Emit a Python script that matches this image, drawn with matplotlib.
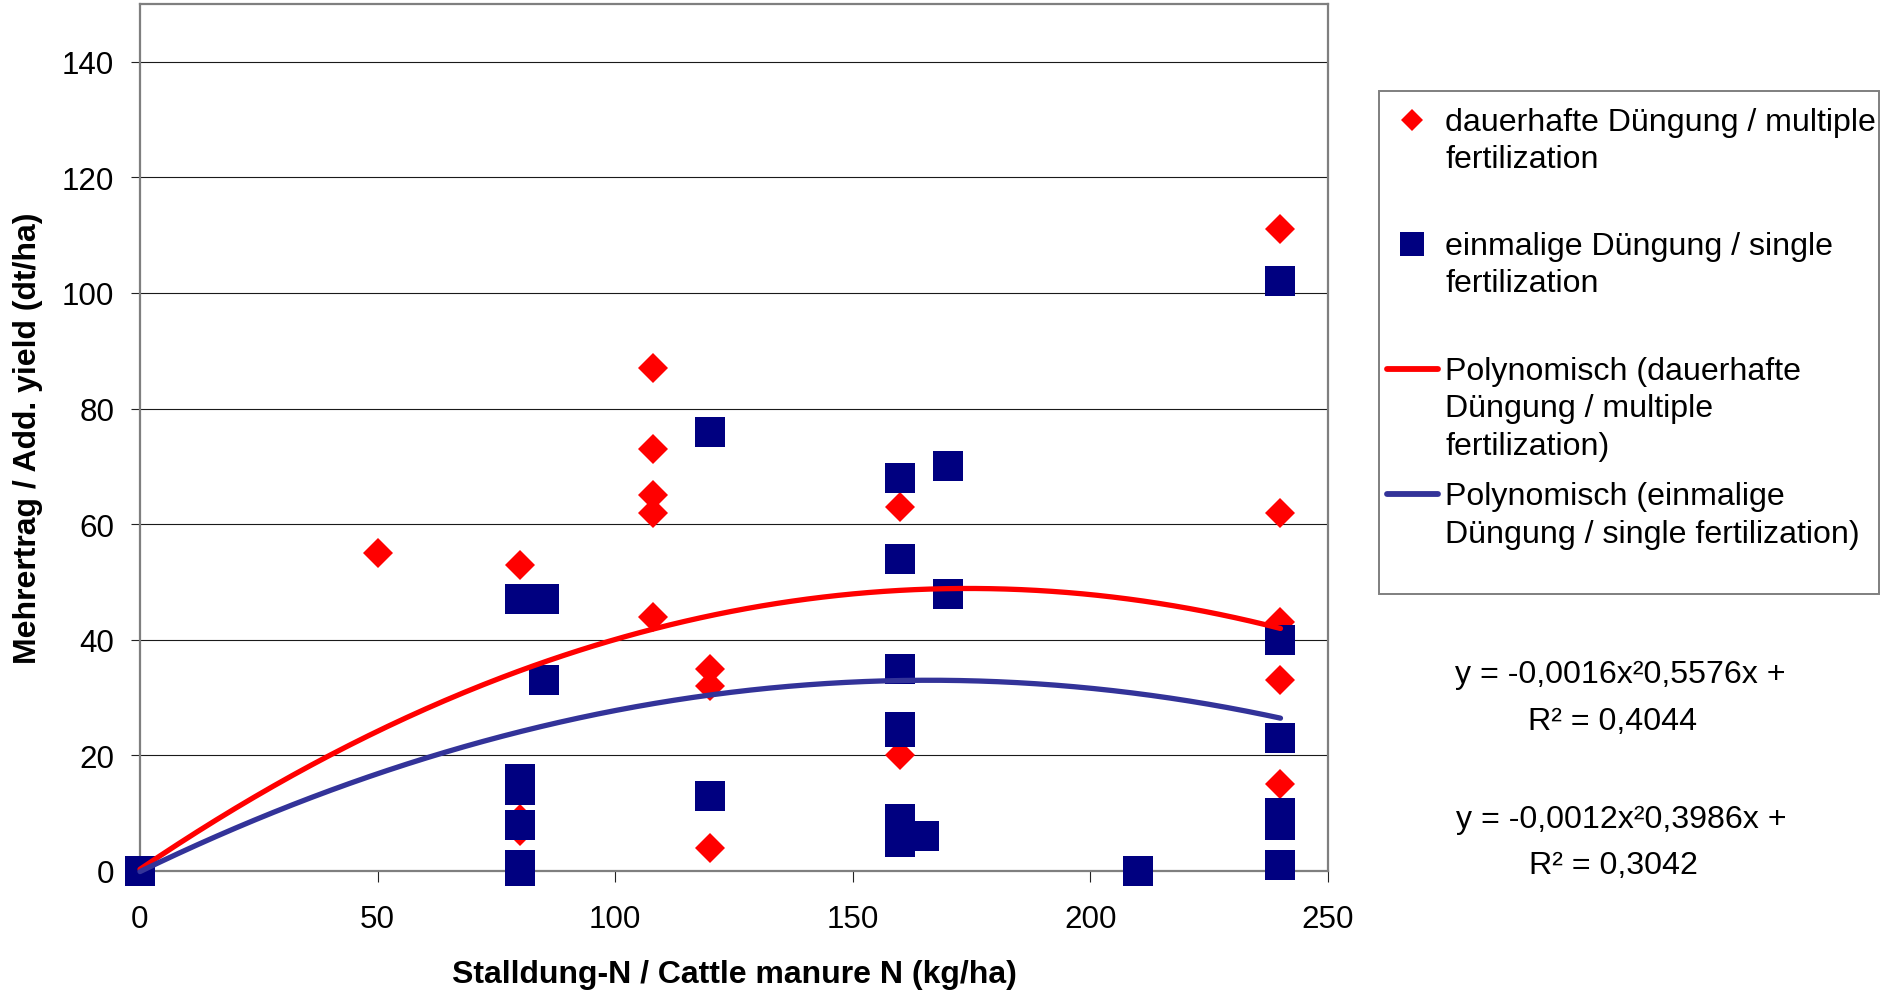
import numpy as np
import matplotlib
matplotlib.use("Agg")
import matplotlib.pyplot as plt
from matplotlib.lines import Line2D
from matplotlib.patches import Rectangle

plt.rcParams["font.family"] = ["Liberation Sans", "DejaVu Sans"]

# Cattle manure N (kg/ha) and additional yield (dt/ha)
multiple_n = [0, 50, 80, 80, 80, 108, 108, 108, 108, 108, 120, 120, 120,
              160, 160, 240, 240, 240, 240, 240]
multiple_yield = [0, 55, 53, 9, 7, 87, 73, 65, 62, 44, 35, 32, 4,
                  63, 20, 111, 62, 43, 33, 15]

single_n = [0, 80, 85, 80, 80, 80, 80, 80, 85, 120, 120,
            160, 160, 160, 160, 160, 160, 160, 165, 170, 170, 210,
            240, 240, 240, 240, 240, 240]
single_yield = [0, 47, 47, 16, 14, 8, 1, 0, 33, 76, 13,
                68, 54, 35, 25, 24, 9, 5, 6, 70, 48, 0,
                102, 40, 23, 10, 8, 1]

# Second-order trend lines (a*x^2 + b*x + c)
multiple_coef = [-0.0016, 0.5576, 0.3]
single_coef = [-0.0012, 0.3986, -0.1]
multiple_r2 = "0,4044"
single_r2 = "0,3042"
trend_xmax = 240

x_ticks = [0, 50, 100, 150, 200, 250]
y_ticks = [0, 20, 40, 60, 80, 100, 120, 140]

legend_labels = [
    "dauerhafte Düngung / multiple\nfertilization",
    "einmalige Düngung / single\nfertilization",
    "Polynomisch (dauerhafte\nDüngung / multiple\nfertilization)",
    "Polynomisch (einmalige\nDüngung / single fertilization)",
]

RED = "#ff0000"
NAVY = "#000080"
LINE_BLUE = "#333399"
FS_TICK = 22.6
FS_TEXT = 23.1
FS_LABEL = 23

W, H = 1880, 995
fig = plt.figure(figsize=(W / 100, H / 100), dpi=100)
ax = fig.add_axes([140 / W, 1 - 872 / H, (1328 - 140) / W, (872 - 5) / H])

ax.plot(multiple_n, multiple_yield, linestyle="none", marker="D",
        ms=14.8, mew=0, color=RED, zorder=3, clip_on=False)
ax.plot(single_n, single_yield, linestyle="none", marker="s",
        ms=21, mew=0, color=NAVY, zorder=4, clip_on=False)

xs = np.linspace(0, trend_xmax, 300)
ax.plot(xs, np.polyval(multiple_coef, xs), color=RED, lw=3.8,
        solid_capstyle="round", zorder=5, clip_on=False)
ax.plot(xs, np.polyval(single_coef, xs), color=LINE_BLUE, lw=3.8,
        solid_capstyle="round", zorder=5, clip_on=False)

ax.set_xlim(0, 250)
ax.set_ylim(0, 150)
ax.set_xticks(x_ticks)
ax.set_yticks(y_ticks)
ax.tick_params(axis="x", length=8, width=0.8, color="#222222", pad=16,
               labelsize=FS_TICK)
ax.tick_params(axis="y", length=6.5, width=0.8, color="#222222", pad=12,
               labelsize=FS_TICK)
ax.yaxis.grid(True, color="#1a1a1a", lw=0.8)
ax.set_axisbelow(True)
for sp in ax.spines.values():
    sp.set_color("#7f7f7f")
    sp.set_linewidth(1.6)
    sp.set_zorder(2)

ax.set_xlabel("Stalldung-N / Cattle manure N (kg/ha)", fontsize=FS_LABEL,
              fontweight="bold", va="center")
ax.xaxis.set_label_coords(0.5, (872 - 975) / 867)
ax.set_ylabel("Mehrertrag / Add. yield (dt/ha)", fontsize=FS_LABEL,
              fontweight="bold", va="center")
ax.yaxis.set_label_coords((28 - 140) / 1188, 0.5)

# Legend drawn in figure pixel space
lay = fig.add_axes([0, 0, 1, 1], zorder=10)
lay.set_xlim(0, W)
lay.set_ylim(H, 0)
lay.axis("off")
lay.patch.set_alpha(0)
lay.add_patch(Rectangle((1379, 92), 500, 503, fill=False,
                        edgecolor="#7f7f7f", lw=1.4))

entry_top = [130.7, 255.1, 380.2, 505.3]
line_step = 37.2
text_x = 1445
handles = [
    dict(marker="D", ms=11.7, color=RED, line=False),
    dict(marker="s", ms=16.6, color=NAVY, line=False),
    dict(marker=None, color=RED, line=True),
    dict(marker=None, color=LINE_BLUE, line=True),
]
for label, base, h in zip(legend_labels, entry_top, handles):
    cy = base - 10
    if h["line"]:
        lay.add_line(Line2D([1387, 1438], [cy, cy], color=h["color"],
                            lw=4.2, solid_capstyle="round"))
    else:
        lay.add_line(Line2D([1412], [cy], marker=h["marker"], ms=h["ms"],
                            mew=0, color=h["color"], linestyle="none"))
    for i, line in enumerate(label.split("\n")):
        lay.text(text_x, base + i * line_step, line, fontsize=FS_TEXT,
                 ha="left", va="baseline")

# Trend line equations
def eq_text(coef):
    a = f"{coef[0]:.4f}".replace(".", ",")
    b = f"{coef[1]:.4f}".replace(".", ",")
    return f"y = {a}x²{b}x +"

lay.text(1620, 682.8, eq_text(multiple_coef), fontsize=FS_TEXT, ha="center",
         va="baseline")
lay.text(1613, 730.2, f"R² = {multiple_r2}", fontsize=FS_TEXT, ha="center",
         va="baseline")
lay.text(1621, 828.2, eq_text(single_coef), fontsize=FS_TEXT, ha="center",
         va="baseline")
lay.text(1613, 874.5, f"R² = {single_r2}", fontsize=FS_TEXT, ha="center",
         va="baseline")

fig.savefig("out.png", dpi=100, facecolor="white")
